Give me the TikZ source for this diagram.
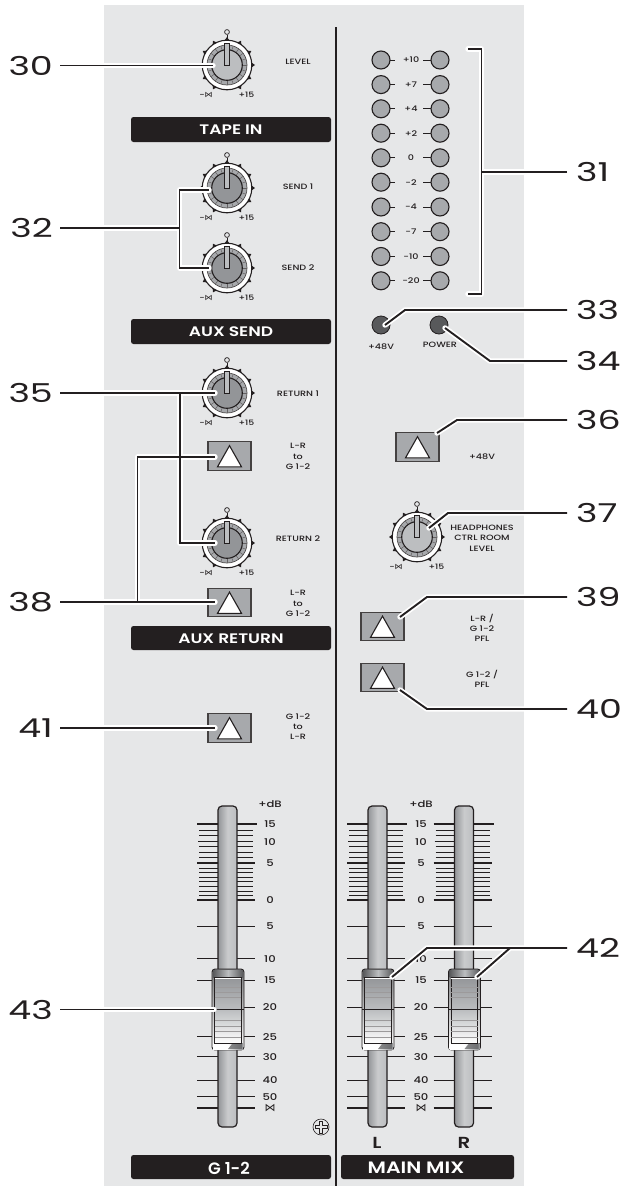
\documentclass[tikz,border=0pt]{standalone}
\usepackage{fontspec}
\usetikzlibrary{shadings}
\newfontfamily\pf[FakeStretch=1.25]{Poppins Medium}
\newfontfamily\pb[FakeStretch=1.24]{Poppins SemiBold}
\newfontfamily\pbn{Poppins SemiBold}
\newfontfamily\numf[FakeStretch=1.4]{Poppins}
\newfontfamily\djv{DejaVu Sans}
\definecolor{panel}{HTML}{E6E7E8}
\definecolor{ink}{HTML}{231F20}
\definecolor{led}{HTML}{A7A9AC}
\definecolor{ledd}{HTML}{58595B}
\definecolor{kl}{HTML}{BCBEC0}
\definecolor{kd}{HTML}{939598}
\newcount\lbc
\tikzset{
  lbl/.style={inner sep=0pt,text=ink,align=center,font={\pf\fontsize{7.7}{10.3}\selectfont}},
  scal/.style={inner sep=0pt,text=ink,font={\pf\fontsize{9.3}{10}\selectfont}},
  tiny/.style={inner sep=0pt,text=ink,font={\pf\fontsize{7.4}{8}\selectfont}},
  numb/.style={inner sep=0pt,text=ink,font={\numf\fontsize{26}{26}\selectfont}},
  bar/.style={fill=ink,rounded corners=2.5pt,draw=none},
  bartext/.style={inner sep=0pt,text=white,font={\pb\fontsize{13.8}{14}\selectfont}},
  bigtext/.style={inner sep=0pt,text=white,font={\pb\fontsize{16.5}{17}\selectfont}},
  gtext/.style={inner sep=0pt,text=white,font={\pbn\fontsize{16.5}{17}\selectfont}},
  halo/.style={draw=white,line width=5.4pt,line cap=round,line join=round},
  lead/.style={draw=ink,line width=1.9pt,line join=miter},
  btn/.style={fill=led,draw=ink!85,line width=1.2pt},
  tri/.style={fill=white,draw=ink,line width=1.1pt,line join=miter},
  tk/.style={draw=ink,line width=0.9pt},
  tkb/.style={draw=ink,line width=1.7pt},
}
\newcommand\lab[4][lbl]{\global\advance\lbc by 1 \node[#1] (lb\the\lbc) at (#2,#3) {#4};}
\newcommand\knob[4]{%
  \coordinate (#4) at (#1,#2);
  \begin{scope}[shift={(#1,#2)}]
    \foreach \a in {-240,-210,...,60}{
      \fill[ink] ({\a-6}:24.5) -- ({\a}:28) -- ({\a+6}:24.5) -- cycle;
    }
    \draw[ink,line width=0.9pt] (0,-27) -- (0,-30.5);
    \draw[ink,line width=0.7pt,fill=panel] (0,-33) circle[radius=2.4];
    \draw[ink,line width=1.1pt,fill=white] (0,0) circle[radius=24.8];
    \draw[ink!80,line width=0.7pt,fill=led] (0,0) circle[radius=20];
    \foreach \a in {0,18,...,342}{ \draw[ink!70,line width=0.5pt] (\a:15) -- (\a:20); }
    \draw[ink,line width=1.1pt,fill=#3] (0,0) circle[radius=15.3];
    \draw[ink,line width=0.8pt,fill=kl] (-2.2,-22) rectangle (2.2,0.5);
  \end{scope}
  \lab[tiny]{#1-21}{#2+30}{-{\djv\fontsize{8}{8}\selectfont ⋈}}
  \lab[tiny]{#1+19.5}{#2+30}{+15}
}
\newcommand\button[3]{%
  \node[btn,minimum width=43pt,minimum height=28.5pt,inner sep=0pt] (#3) at (#1,#2) {};
  \draw[tri] ([yshift=-4.5pt]#3.north) -- ([xshift=-12pt,yshift=4pt]#3.south) -- ([xshift=12pt,yshift=4pt]#3.south) -- cycle;
}
\newcommand\fader[1]{%
 \begin{scope}[xshift=#1]
  \foreach \y in {830,835.5,846.7,852,857.3,868.3,872.3,877,881.7,886.7,891,895.3}{
    \draw[tk] (199,\y) -- (218,\y); \draw[tk] (237,\y) -- (253,\y);
  }
  \draw[tkb] (197,824) -- (218,824); \draw[tkb] (237,824) -- (257,824);
  \draw[tkb] (198,841.5) -- (218,841.5); \draw[tkb] (237,841.5) -- (253,841.5);
  \draw[tkb] (197,863) -- (218,863); \draw[tkb] (237,863) -- (255,863);
  \draw[tkb] (197,900) -- (218,900); \draw[tkb] (237,900) -- (255,900);
  \foreach \y in {926,958.7,980,1007,1036.7,1056.7,1080.7,1096.7}{
    \draw[tk] (197,\y) -- (218,\y); \draw[tk] (237,\y) -- (255,\y);
  }
  \draw[tkb] (197,1108.3) -- (218,1108.3); \draw[tkb] (237,1108.3) -- (255,1108.3);
  \draw[ink,line width=1.2pt,rounded corners=4pt,left color=kd,right color=kl,middle color=kl!80!white] (218,806) rectangle (237,1127);
  \draw[ink,line width=0.9pt,rounded corners=3pt,top color=ledd!80,bottom color=white] (212,969) rectangle (244,1050);
  \fill[left color=ledd,right color=ledd,middle color=kl] (213,970) rectangle (243,977);
  \fill[left color=white,right color=kd,middle color=white] (213,1043) rectangle (243,1049);
  \fill[ledd,opacity=.7] (228,1049) -- (232,1044) -- (242,1043) -- (242,1049) -- cycle;
  \draw[ink,line width=0.8pt,top color=kd,bottom color=white,middle color=kl] (214.5,977) rectangle (241,1043);
  \foreach \y in {978.5,987.5,992,997,1020.5,1026.5,1031,1037}{
    \draw[ink!45,line width=0.5pt] (214.5,\y) -- (241,\y);
  }
  \fill[white] (214.8,977.6) rectangle (240.7,978.2);
  \draw[ink,line width=0.9pt] (212,1009.5) -- (244,1009.5);
 \end{scope}
}
\newcommand\scale[1]{%
  \foreach \y/\t in {804/+dB,824.5/15,842/10,863/5,900/0,926/5,958.7/10,980/15,1007/20,1036.7/25,1056.7/30,1080/40,1096.7/50}{
    \lab[scal]{#1}{\y}{\t}
  }
  \lab[scal]{#1}{1108.5}{{\djv\fontsize{11}{11}\selectfont ⋈}}
}
\newcommand\leader[1]{\draw[halo] #1; \draw[lead] #1;}
\begin{document}
\begin{tikzpicture}[x=1pt,y=-1pt]
\useasboundingbox (0,0) rectangle (622,1186);
\fill[white] (0,0) rectangle (622,1186);
\fill[panel] (104,5) rectangle (524,1186);
\draw[ink,line width=2pt] (336,27) -- (336,1186);
% bars
\node[bar,minimum width=200pt,minimum height=25pt,inner sep=0pt] (bTape) at (231,129.5) {};
\node[bartext] (tTape) at (231,130) {TAPE IN};
\node[bar,minimum width=200pt,minimum height=25pt,inner sep=0pt] (bSend) at (231,331.5) {};
\node[bartext] (tSend) at (231,332) {AUX SEND};
\node[bar,minimum width=200pt,minimum height=24pt,inner sep=0pt] (bRet) at (231,638) {};
\node[bartext] (tRet) at (231,638.5) {AUX RETURN};
\node[bar,minimum width=200pt,minimum height=24pt,inner sep=0pt] (bG) at (231,1167) {};
\node[gtext] (tG) at (229,1168) {G 1-2};
\node[bar,minimum width=173pt,minimum height=24pt,inner sep=0pt] (bMain) at (427.5,1167) {};
\node[bigtext] (tMain) at (416,1168) {MAIN MIX};
% knobs
\knob{227}{65}{kl}{kLevel}
\knob{227}{188}{kd}{kSendA}
\knob{227}{268}{kd}{kSendB}
\knob{227}{393}{kd}{kRetA}
\knob{227}{543}{kd}{kRetB}
\knob{417}{537}{kl}{kPhones}
\lab{298}{61.5}{LEVEL}
\lab{298}{187}{SEND 1}
\lab{298}{267.5}{SEND 2}
\lab{298}{393.5}{RETURN 1}
\lab{298}{539}{RETURN 2}
\lab{482}{538}{HEADPHONES\\CTRL ROOM\\LEVEL}
% buttons
\button{229.5}{456}{bA}
\button{229.5}{602.5}{bB}
\button{229.5}{728}{bC}
\button{417.5}{447}{bD}
\button{382.5}{626.5}{bE}
\button{382.5}{677.5}{bF}
\lab{298}{456.5}{L-R\\to\\G 1-2}
\lab{298}{603.5}{L-R\\to\\G 1-2}
\lab{298}{726.5}{G 1-2\\to\\L-R}
\lab{482}{457}{+48V}
\lab{482}{628}{L-R /\\G 1-2\\PFL}
\lab{482}{679}{G 1-2 /\\PFL}
% LEDs
\foreach \y/\t [count=\i] in {60/+10,84.6/+7,108.8/+4,133.2/+2,157.8/0,182.2/-2,207/-4,231.7/-7,256.5/-10,280.8/-20}{
  \draw[ink,line width=0.9pt] (389,\y) -- (395,\y);
  \draw[ink,line width=0.9pt] (423,\y) -- (431,\y);
  \node[circle,fill=led,draw=ink,line width=1.1pt,minimum size=18pt,inner sep=0pt] (la\i) at (381,\y) {};
  \node[circle,fill=led,draw=ink,line width=1.1pt,minimum size=18pt,inner sep=0pt] (lb-\i) at (440,\y) {};
  \node[lbl] (lt\i) at (411,\y) {\t};
}
\node[circle,fill=ledd,draw=ink,line width=0.8pt,minimum size=18pt,inner sep=0pt] (ledP) at (381,325) {};
\node[circle,fill=ledd,draw=ink,line width=0.8pt,minimum size=18pt,inner sep=0pt] (ledQ) at (439,325) {};
\lab{381}{346.5}{+48V}
\lab{440}{344.5}{POWER}
% faders
\fader{0}
\fader{150}
\fader{236.5}
\scale{270}
\scale{421}
\node[inner sep=0pt,text=ink,font={\pb\fontsize{16}{16}\selectfont}] (tL) at (377,1143) {L};
\node[inner sep=0pt,text=ink,font={\pb\fontsize{16}{16}\selectfont}] (tR) at (464,1143) {R};
% screw
\draw[ink,line width=0.6pt] (321,1127) circle[radius=8];
\draw[ink,line width=0.6pt,line join=round] (319.3,1121) -- (322.7,1121) -- (322.7,1125.3) -- (327,1125.3) -- (327,1128.7) -- (322.7,1128.7) -- (322.7,1133) -- (319.3,1133) -- (319.3,1128.7) -- (315,1128.7) -- (315,1125.3) -- (319.3,1125.3) -- cycle;
% numbers
\node[numb,anchor=east] (n30) at (53,65.5) {30};
\node[numb,anchor=east] (n32) at (53,228) {32};
\node[numb,anchor=east] (n35) at (53,393) {35};
\node[numb,anchor=east] (n38) at (53,602) {38};
\node[numb,anchor=east] (n41) at (53,728) {41};
\node[numb,anchor=east] (n43) at (53,1009.5) {43};
\node[numb,anchor=west] (n31) at (576,172) {31};
\node[numb,anchor=west] (n33) at (576,310) {33};
\node[numb,anchor=west] (n34) at (576,361) {34};
\node[numb,anchor=west] (n36) at (576,420) {36};
\node[numb,anchor=west] (n37) at (576,513) {37};
\node[numb,anchor=west] (n39) at (576,597) {39};
\node[numb,anchor=west] (n40) at (576,709) {40};
\node[numb,anchor=west] (n42) at (576,948) {42};
% leader points
\coordinate (e30) at (213,65.5);
\coordinate (s30) at (60,65.5);
\coordinate (s32) at (60,228); \coordinate (j32) at (179.5,228);
\coordinate (c32a) at (179.5,190); \coordinate (e32a) at (209,190);
\coordinate (c32b) at (179.5,268); \coordinate (e32b) at (209,268);
\coordinate (s35) at (60,393); \coordinate (e35a) at (215,393);
\coordinate (j35) at (180,393); \coordinate (c35) at (180,543); \coordinate (e35b) at (215,543);
\coordinate (s38) at (60,602); \coordinate (e38a) at (215,602);
\coordinate (j38) at (137.5,602); \coordinate (c38) at (137.5,457); \coordinate (e38b) at (215,457);
\coordinate (s41) at (60,728); \coordinate (e41) at (215,728);
\coordinate (s43) at (60,1009.5); \coordinate (e43) at (214,1009.5);
\coordinate (s31) at (567,172); \coordinate (j31) at (481.5,172);
\coordinate (b31a) at (468,49); \coordinate (c31a) at (481.5,49);
\coordinate (b31b) at (468,294); \coordinate (c31b) at (481.5,294);
\coordinate (s33) at (567,310); \coordinate (c33) at (405,310); \coordinate (e33) at (385,325);
\coordinate (s34) at (567,361); \coordinate (c34) at (490,361); \coordinate (e34) at (445,328);
\coordinate (s36) at (567,420); \coordinate (c36) at (457,420); \coordinate (e36) at (437,433);
\coordinate (s37) at (567,513); \coordinate (c37) at (448,513); \coordinate (e37) at (429,528);
\coordinate (s39) at (567,597); \coordinate (c39) at (427,597); \coordinate (e39) at (400,617);
\coordinate (s40) at (567,709); \coordinate (c40) at (427,709); \coordinate (e40) at (400,690);
\coordinate (s42) at (567,948); \coordinate (c42a) at (427,948); \coordinate (e42a) at (392,977);
\coordinate (c42b) at (510,948); \coordinate (e42b) at (477,977);
% leaders
\leader{(s30) -- (e30)}
\draw[halo] (s32) -- (j32) (e32a) -- (c32a) -- (c32b) -- (e32b);
\draw[lead] (s32) -- (j32) (e32a) -- (c32a) -- (c32b) -- (e32b);
\draw[halo] (s35) -- (e35a) (j35) -- (c35) -- (e35b) (s38) -- (e38a) (j38) -- (c38) -- (e38b);
\draw[lead] (s35) -- (e35a) (j35) -- (c35) -- (e35b) (s38) -- (e38a) (j38) -- (c38) -- (e38b);
\leader{(s41) -- (e41)}
\leader{(s43) -- (e43)}
\draw[halo] (s31) -- (j31) (b31a) -- (c31a) -- (c31b) -- (b31b);
\draw[lead] (s31) -- (j31) (b31a) -- (c31a) -- (c31b) -- (b31b);
\leader{(s33) -- (c33) -- (e33)}
\leader{(s34) -- (c34) -- (e34)}
\leader{(s36) -- (c36) -- (e36)}
\leader{(s37) -- (c37) -- (e37)}
\leader{(s39) -- (c39) -- (e39)}
\leader{(s40) -- (c40) -- (e40)}
\draw[halo] (s42) -- (c42a) -- (e42a) (c42b) -- (e42b);
\draw[lead] (s42) -- (c42a) -- (e42a) (c42b) -- (e42b);
\end{tikzpicture}
\end{document}
